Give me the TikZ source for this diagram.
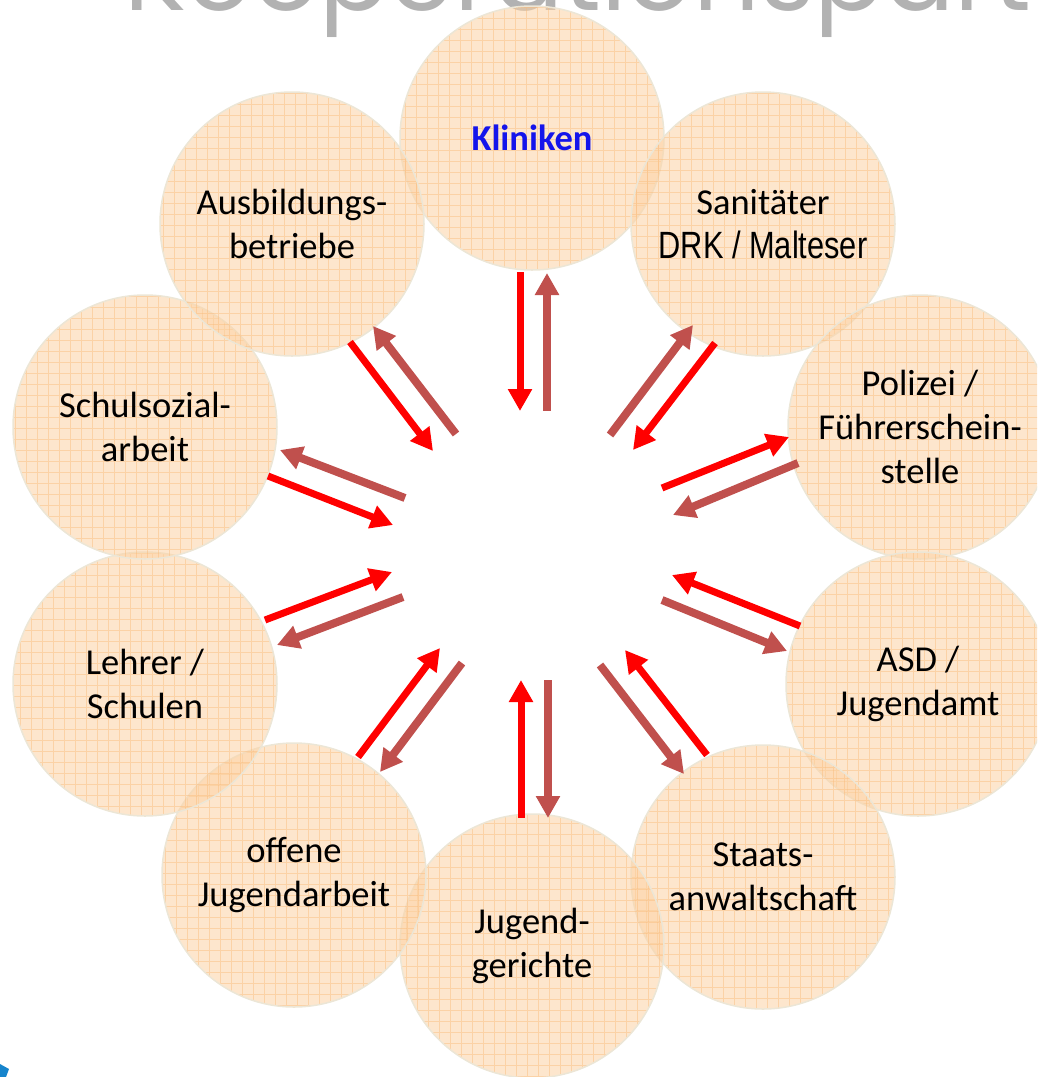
\documentclass[tikz,border=0pt]{standalone}
\usepackage{fontspec}
\setmainfont{Carlito}
\newfontfamily\narrowfont[FakeStretch=0.81]{Liberation Sans}
\newfontfamily\titlefont{Poppins}
\usetikzlibrary{calc,arrows.meta}

\definecolor{bubblefill}{RGB}{252,210,164}
\definecolor{bubbleline}{RGB}{236,230,214}
\definecolor{gridorange}{RGB}{250,185,120}
\definecolor{arrowred}{RGB}{255,0,0}
\definecolor{arrowbrown}{RGB}{192,80,77}
\definecolor{titlegray}{RGB}{178,178,178}
\definecolor{klinblue}{RGB}{20,20,235}
\definecolor{logoblue}{RGB}{22,132,204}

\tikzset{
  bubble/.style={draw=bubbleline, line width=1.5pt, circle, minimum size=264pt, inner sep=0pt,
    fill=bubblefill, fill opacity=0.55, text opacity=1, align=center,
    font=\fontsize{36.5}{44}\selectfont,
    path picture={\draw[gridorange, draw opacity=0.45, line width=0.6pt]
      (path picture bounding box.south west) grid[step=11pt] (path picture bounding box.north east);}},
  redarrow/.style={draw=arrowred, line width=7pt},
  brownarrow/.style={draw=arrowbrown, line width=8pt},
  >={Triangle[width=23pt,length=22pt]}
}

\begin{document}
\begin{tikzpicture}[x=1pt,y=-1pt]
\useasboundingbox (0,0) rectangle (1037,1077);
\clip (0,0) rectangle (1037,1077);

% heading, cut off by the page
\node[anchor=base west, inner sep=0pt, text=titlegray, font=\titlefont\fontsize{104}{110}\selectfont] (title) at (124,10) {Kooperationspartner};
\fill[logoblue] (0,1064) -- (9,1069) -- (6,1077) -- (0,1077) -- cycle;

% partners
\node[bubble] (kli) at (532,138) {\textcolor{klinblue}{\bfseries Kliniken}};
\node[bubble] (san) at (763,224) {Sanitäter\\{\narrowfont\fontsize{38}{44}\selectfont DRK / Malteser}};
\node[bubble] (pol) at (920,427) {Polizei /\\Führerschein-\\stelle};
\node[bubble] (asd) at (918,684) {ASD /\\Jugendamt};
\node[bubble] (sta) at (763,877) {Staats-\\anwaltschaft};
\node[bubble] (jug) at (532,946) {Jugend-\\gerichte};
\node[bubble] (off) at (294,875) {offene\\Jugendarbeit};
\node[bubble] (leh) at (145,684) {Lehrer /\\Schulen};
\node[bubble] (sch) at (145,427) {Schulsozial-\\arbeit};
\node[bubble] (aus) at (292,224) {Ausbildungs-\\betriebe};

% arrow pairs
\draw[redarrow,->] ($(kli)+(-12,134)$) -- ++(0,139);
\draw[brownarrow,<-] ($(kli)+(15,135)$) -- ++(0,138);

\draw[redarrow,->] ($(san)+(-48,119)$) -- ++(-82,107);
\draw[brownarrow,<-] ($(san)+(-70,101)$) -- ++(-83,110);

\draw[redarrow,<-] ($(pol)+(-131,10)$) -- ++(-127,51);
\draw[brownarrow,->] ($(pol)+(-122,36)$) -- ++(-125,52);

\draw[redarrow,->] ($(asd)+(-118,-58)$) -- ++(-128,-51);
\draw[brownarrow,<-] ($(asd)+(-131,-33)$) -- ++(-125,-51);

\draw[redarrow,->] ($(sta)+(-56,-122)$) -- ++(-82,-105);
\draw[brownarrow,<-] ($(sta)+(-79,-103)$) -- ++(-84,-109);

\draw[redarrow,->] ($(jug)+(-11,-128)$) -- ++(0,-138);
\draw[brownarrow,<-] ($(jug)+(16,-128)$) -- ++(0,-138);

\draw[redarrow,->] ($(off)+(64,-118)$) -- ++(82,-109);
\draw[brownarrow,<-] ($(off)+(86,-103)$) -- ++(82,-109);

\draw[redarrow,->] ($(leh)+(120,-64)$) -- ++(127,-48);
\draw[brownarrow,<-] ($(leh)+(132,-39)$) -- ++(126,-48);

\draw[redarrow,->] ($(sch)+(123,49)$) -- ++(125,49);
\draw[brownarrow,<-] ($(sch)+(135,23)$) -- ++(125,48);

\draw[redarrow,->] ($(aus)+(58,118)$) -- ++(83,109);
\draw[brownarrow,<-] ($(aus)+(81,102)$) -- ++(83,108);

\end{tikzpicture}
\end{document}
